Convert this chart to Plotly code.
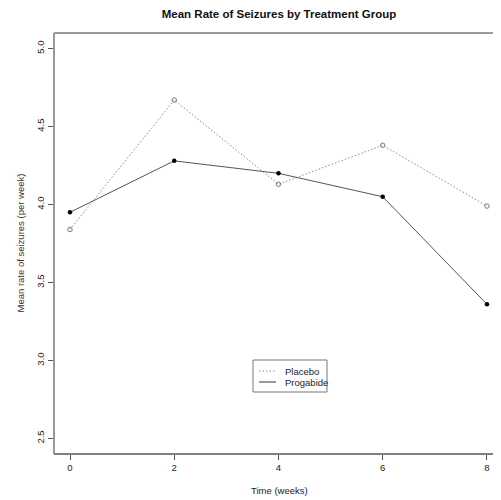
import plotly.graph_objects as go

weeks = [0, 2, 4, 6, 8]
placebo = [3.84, 4.67, 4.13, 4.38, 3.99]
progabide = [3.95, 4.28, 4.20, 4.05, 3.36]
x_ticks = [0, 2, 4, 6, 8]
y_ticks = [2.5, 3.0, 3.5, 4.0, 4.5, 5.0]
y_tick_text = ["2.5", "3.0", "3.5", "4.0", "4.5", "5.0"]
series_names = ["Placebo", "Progabide"]

FONT = "Liberation Sans, Arial, sans-serif"

# page body has an 8px margin, so the figure is drawn at (8, 8)
OFF = 8
W, H = 501 - OFF, 500 - OFF
PL, PR, PT, PB = 54, 501, 33, 454  # plot area in reference pixels


def px(x):
    return (x - PL) / (PR - PL)


def py(y):
    return (PB - y) / (PB - PT)


fig = go.Figure()
fig.add_trace(go.Scatter(
    x=weeks, y=placebo, name=series_names[0], mode="lines+markers",
    line=dict(color="#8a8a8a", width=1, dash="1.5px,2px"),
    marker=dict(symbol="circle-open", size=4.5, color="#7a7a7a", line=dict(width=1)),
    showlegend=False,
))
fig.add_trace(go.Scatter(
    x=weeks, y=progabide, name=series_names[1], mode="lines+markers",
    line=dict(color="#555555", width=1),
    marker=dict(symbol="circle", size=4.5, color="#000000"),
    showlegend=False,
))

shapes = [
    dict(type="line", xref="paper", yref="paper", x0=0, x1=0, y0=0, y1=1,
         line=dict(color="#9a9a9a", width=2)),
    dict(type="line", xref="paper", yref="paper", x0=0, x1=1.01, y0=1, y1=1,
         line=dict(color="#9a9a9a", width=2)),
    dict(type="line", xref="paper", yref="paper", x0=0, x1=1.01, y0=0, y1=0,
         line=dict(color="#555555", width=1.5)),
    # legend box
    dict(type="rect", xref="paper", yref="paper", x0=px(253), x1=px(327),
         y0=py(392), y1=py(360), line=dict(color="#777", width=1),
         fillcolor="white"),
    dict(type="line", xref="paper", yref="paper", x0=px(259), x1=px(276),
         y0=py(371), y1=py(371), line=dict(color="#8a8a8a", width=1, dash="1.5px,2px")),
    dict(type="line", xref="paper", yref="paper", x0=px(259), x1=px(276),
         y0=py(382), y1=py(382), line=dict(color="#333333", width=1)),
]

annotations = [
    dict(text="Time (weeks)", xref="paper", yref="paper",
         x=px(279), y=py(490), xanchor="center", yanchor="middle",
         showarrow=False, font=dict(size=9.5, color="#222")),
    dict(text="Mean rate of seizures (per week)", xref="paper", yref="paper",
         x=px(20), y=0.5, xanchor="center", yanchor="middle",
         textangle=-90, showarrow=False, font=dict(size=9.5, color="#4a3020")),
    dict(text=series_names[0], xref="paper", yref="paper",
         x=px(283), y=py(371), xanchor="left", yanchor="middle",
         showarrow=False, font=dict(size=9.5, color="#222")),
    dict(text=series_names[1], xref="paper", yref="paper",
         x=px(283), y=py(382), xanchor="left", yanchor="middle",
         showarrow=False, font=dict(size=9.5, color="#222")),
]

fig.update_layout(
    width=W, height=H,
    margin=dict(l=PL - OFF, r=0, t=PT - OFF, b=500 - PB, pad=0),
    paper_bgcolor="white", plot_bgcolor="white",
    font=dict(family=FONT, size=10, color="#222"),
    title=dict(text="<b>Mean Rate of Seizures by Treatment Group</b>",
               x=(279 - OFF) / W, xanchor="center", y=1 - (14 - OFF) / H, yanchor="middle",
               font=dict(size=11.5, color="#111")),
    showlegend=False,
    xaxis=dict(range=[-0.307, 8.269], tickvals=x_ticks, ticktext=[str(t) for t in x_ticks],
               showgrid=False, zeroline=False, showline=False,
               ticks="outside", ticklen=5, tickcolor="#555", tickwidth=1,
               tickfont=dict(size=9.5, color="#222")),
    yaxis=dict(range=[2.4, 5.1], tickvals=y_ticks, ticktext=y_tick_text,
               showgrid=False, zeroline=False, showline=False,
               ticks="outside", ticklen=5, tickcolor="#555", tickwidth=1,
               tickangle=-90, tickfont=dict(size=9.5, color="#222")),
    shapes=shapes,
    annotations=annotations,
)

fig.write_html("out.html")
